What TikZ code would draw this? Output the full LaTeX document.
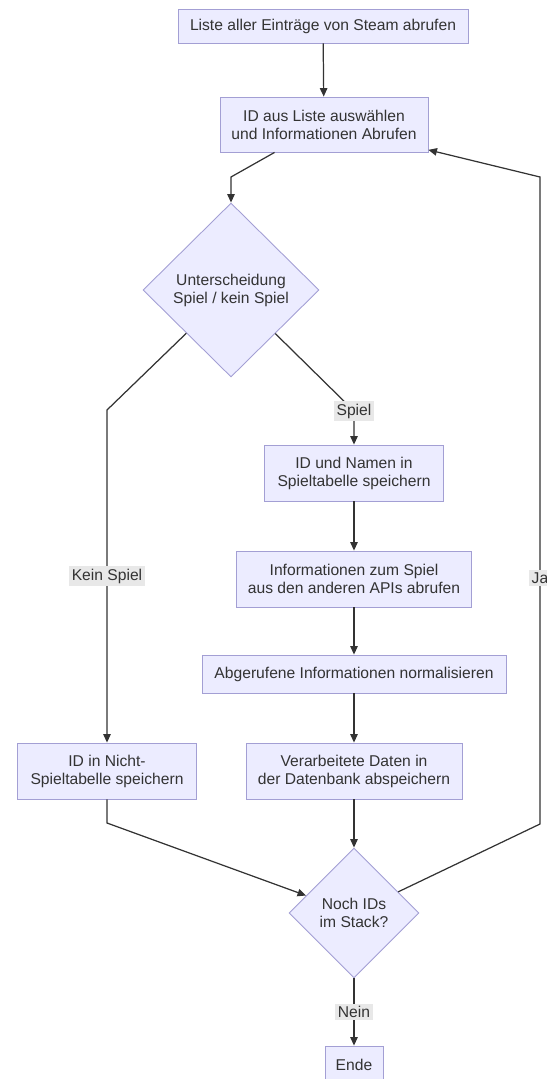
\documentclass[tikz,border=0pt]{standalone}
\usepackage{fontspec}
\setmainfont{Liberation Sans}
\usetikzlibrary{shapes.geometric, arrows.meta}
\definecolor{boxfill}{HTML}{ECECFF}
\definecolor{boxline}{HTML}{A39FD4}
\definecolor{ink}{HTML}{333333}
\definecolor{lblfill}{HTML}{E8E8E8}

\begin{document}
\begin{tikzpicture}[
    x=0.02cm, y=-0.02cm,
    every node/.style={text=ink, font=\fontsize{8.9}{10.3}\selectfont, align=center},
    proc/.style={draw=boxline, fill=boxfill, line width=0.5pt, inner sep=0pt, minimum height=1.12cm},
    decision/.style={diamond, draw=boxline, fill=boxfill, line width=0.5pt, inner sep=0pt},
    lbl/.style={fill=lblfill, inner sep=1.5pt},
    flow/.style={draw=ink, line width=0.7pt, -{Triangle[length=0.17cm, width=0.15cm]}}
]
\useasboundingbox (0,0) rectangle (547,1079);

\node[proc, minimum width=5.8cm, minimum height=0.68cm] (list) at (323,26) {Liste aller Einträge von Steam abrufen};
\node[proc, minimum width=4.16cm, minimum height=1.1cm] (select) at (324,124.5) {ID aus Liste auswählen\\und Informationen Abrufen};
\node[decision, minimum width=3.52cm, minimum height=3.48cm] (split) at (231,290) {Unterscheidung\\Spiel / kein Spiel};
\node[proc, minimum width=3.58cm] (game) at (354,473) {ID und Namen in\\Spieltabelle speichern};
\node[proc, minimum width=4.7cm] (info) at (354,579) {Informationen zum Spiel\\aus den anderen APIs abrufen};
\node[proc, minimum width=6.08cm, minimum height=0.76cm] (norm) at (354,674) {Abgerufene Informationen normalisieren};
\node[proc, minimum width=4.32cm] (store) at (354,771) {Verarbeitete Daten in\\der Datenbank abspeichern};
\node[proc, minimum width=3.58cm] (nogame) at (107,771) {ID in Nicht-\\Spieltabelle speichern};
\node[decision, minimum width=2.6cm, minimum height=2.6cm] (more) at (354,913) {Noch IDs\\im Stack?};
\node[proc, minimum width=1.16cm, minimum height=0.76cm] (ende) at (354,1065) {Ende};

\coordinate (b1) at (231,177);
\coordinate (b2) at (107,410);
\coordinate (b3) at (354,411);
\coordinate (b4) at (107,823);
\coordinate (b5) at (540,824);
\coordinate (b6) at (540,177);

\draw[flow] (list) -- (select);
\draw[flow] (select) -- (b1) -- (split);
\draw[flow] (split) -- (b2) -- node[lbl]{Kein Spiel} (nogame);
\draw[flow] (split) -- (b3) -- node[lbl, pos=0]{Spiel} (game);
\draw[flow] (game) -- (info);
\draw[flow] (info) -- (norm);
\draw[flow] (norm) -- (store);
\draw[flow] (store) -- (more);
\draw[flow] (nogame) -- (b4) -- (more);
\draw[flow] (more) -- (b5) -- node[lbl, pos=0.38]{Ja} (b6) -- (select);
\draw[flow] (more) -- node[lbl]{Nein} (ende);
\end{tikzpicture}
\end{document}
